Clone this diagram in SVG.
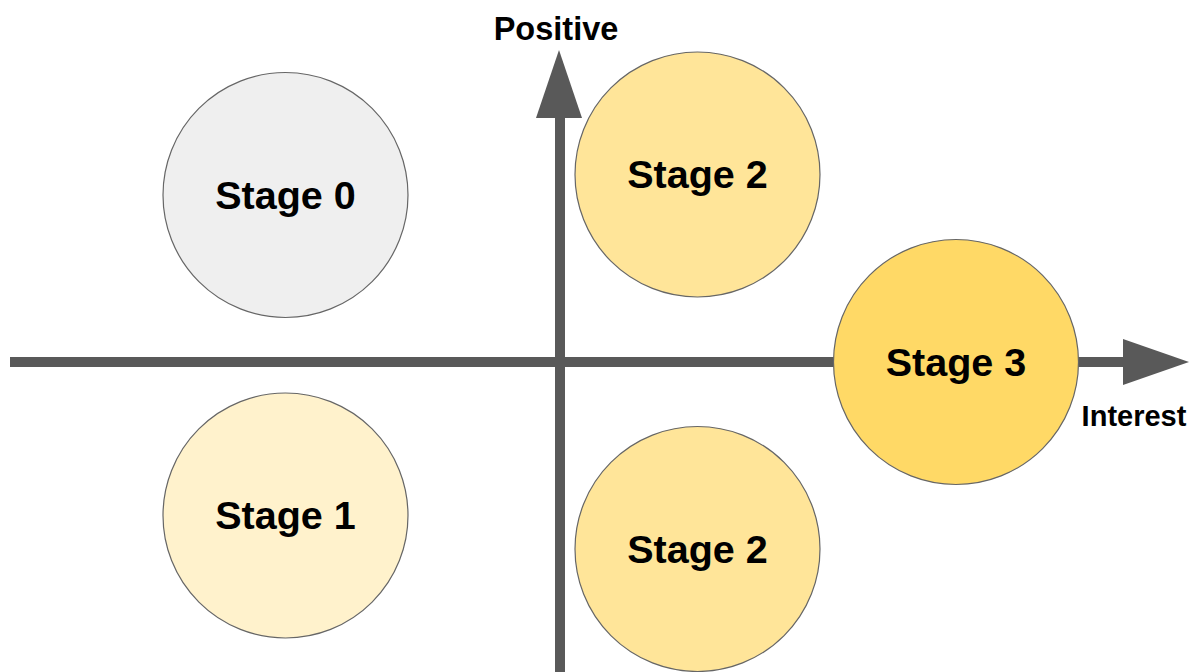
<svg xmlns="http://www.w3.org/2000/svg" width="1195" height="672" viewBox="0 0 1195 672">
<style>
.axis{stroke:#595959;stroke-width:10;fill:none}
.head{fill:#595959}
.node{stroke:#666666;stroke-width:1.2}
.lbl{font-family:"Liberation Sans",Arial,sans-serif;font-weight:bold;fill:#000;text-anchor:middle}
.st{font-size:39.5px}
</style>
<rect width="1195" height="672" fill="#ffffff"/>
<g id="connectors">
<line class="axis" x1="10" y1="362" x2="1126" y2="362"/>
<polygon class="head" points="1123,339 1189,362 1123,385"/>
<line class="axis" x1="560" y1="672" x2="560" y2="114"/>
<polygon class="head" points="536,118 559,50 582,118"/>
</g>
<g id="label-positive"><text class="lbl" x="556" y="40" font-size="32.5">Positive</text></g>
<g id="label-interest"><text class="lbl" x="1134" y="426" font-size="29">Interest</text></g>
<g id="stage0"><circle class="node" cx="285.5" cy="195" r="122.5" fill="#efefef"/><text class="lbl st" x="285.5" y="209">Stage 0</text></g>
<g id="stage1"><circle class="node" cx="285.5" cy="515.5" r="122.5" fill="#fff2cc"/><text class="lbl st" x="285.5" y="529">Stage 1</text></g>
<g id="stage2-top"><circle class="node" cx="697.5" cy="174.5" r="122.5" fill="#ffe599"/><text class="lbl st" x="697.5" y="188">Stage 2</text></g>
<g id="stage2-bottom"><circle class="node" cx="697.5" cy="549" r="122.5" fill="#ffe599"/><text class="lbl st" x="697.5" y="563">Stage 2</text></g>
<g id="stage3"><circle class="node" cx="956" cy="362" r="122.5" fill="#ffd966"/><text class="lbl st" x="956" y="376">Stage 3</text></g>
</svg>
